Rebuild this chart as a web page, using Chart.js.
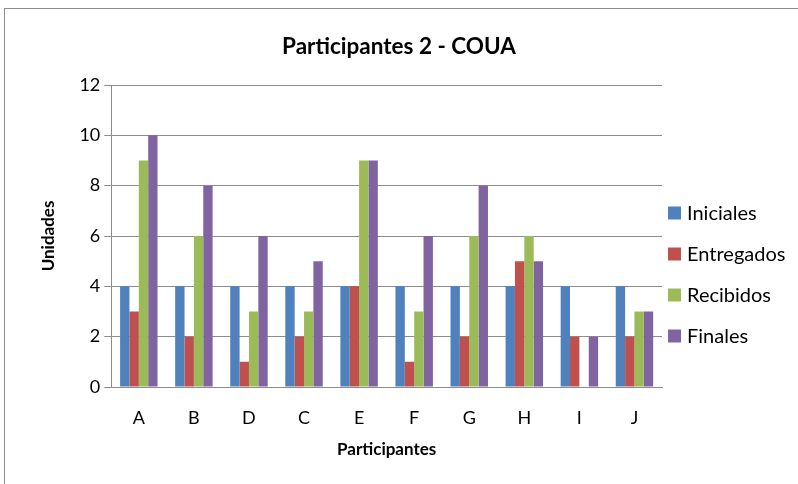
<!DOCTYPE html>
<html>
<head>
<meta charset="utf-8">
<script src="https://cdn.jsdelivr.net/npm/chart.js@4/dist/chart.umd.min.js"></script>
<style>
  html, body { margin: 0; padding: 0; background: #fff; }
  #wrap { width: 798px; height: 484px; position: relative; }
</style>
</head>
<body>
<div id="wrap"><canvas id="c" width="798" height="484"></canvas></div>
<script>
const categories = ['A', 'B', 'D', 'C', 'E', 'F', 'G', 'H', 'I', 'J'];
const iniciales  = [4, 4, 4, 4, 4, 4, 4, 4, 4, 4];
const entregados = [3, 2, 1, 2, 4, 1, 2, 5, 2, 2];
const recibidos  = [9, 6, 3, 3, 9, 3, 6, 6, 0, 3];
const finales    = [10, 8, 6, 5, 9, 6, 8, 5, 2, 3];
const yTicks = [0, 2, 4, 6, 8, 10, 12];

const font = 'Lato, "Open Sans", sans-serif';

// outer frame like the spreadsheet chart area
const frame = {
    id: 'frame',
    beforeDraw(chart) {
        const ctx = chart.ctx;
        ctx.save();
        ctx.fillStyle = '#fff';
        ctx.fillRect(0, 0, chart.width, chart.height);
        ctx.strokeStyle = '#8c8c8c';
        ctx.lineWidth = 1;
        ctx.strokeRect(4.5, 8.5, 900, 600);
        ctx.restore();
    }
};

// legend on the right, drawn from the datasets
const sideLegend = {
    id: 'sideLegend',
    afterDraw(chart) {
        const ctx = chart.ctx;
        const x = chart.chartArea.right + 6;
        let y = 213;
        ctx.save();
        ctx.font = '20px ' + font;
        ctx.textBaseline = 'middle';
        ctx.textAlign = 'left';
        chart.data.datasets.forEach(ds => {
            ctx.fillStyle = ds.backgroundColor;
            ctx.fillRect(x, y - 6.5, 13, 13);
            ctx.fillStyle = '#000';
            ctx.fillText(ds.label, x + 19, y + 1);
            y += 41;
        });
        ctx.restore();
    }
};

new Chart(document.getElementById('c'), {
    type: 'bar',
    data: {
        labels: categories,
        datasets: [
            { label: 'Iniciales', data: iniciales, backgroundColor: '#4F81BD' },
            { label: 'Entregados', data: entregados, backgroundColor: '#C0504D' },
            { label: 'Recibidos', data: recibidos, backgroundColor: '#9BBB59' },
            { label: 'Finales', data: finales, backgroundColor: '#8064A2' }
        ]
    },
    options: {
        responsive: false,
        animation: false,
        layout: { padding: { left: 0, right: 0, top: 0, bottom: 20 } },
        datasets: { bar: { categoryPercentage: 0.68, barPercentage: 1.0 } },
        plugins: {
            title: {
                display: true,
                text: 'Participantes 2 - COUA',
                color: '#000',
                font: { family: font, size: 22.5, weight: 'bold' },
                padding: { top: 33, bottom: 25 }
            },
            legend: { display: false },
            tooltip: { enabled: false }
        },
        scales: {
            x: {
                grid: { display: false, drawTicks: false },
                border: { color: '#8c8c8c' },
                ticks: { color: '#000', font: { family: font, size: 18 }, padding: 20 },
                title: {
                    display: true,
                    text: 'Participantes',
                    color: '#000',
                    font: { family: font, size: 17, weight: 'bold' },
                    padding: { top: -9, bottom: 4 }
                }
            },
            y: {
                min: 0,
                max: 12,
                afterBuildTicks(axis) { axis.ticks = yTicks.map(v => ({ value: v })); },
                grid: { color: '#8c8c8c', tickLength: 7 },
                border: { color: '#8c8c8c' },
                ticks: { color: '#000', font: { family: font, size: 18 }, padding: 4 },
                title: {
                    display: true,
                    text: 'Unidades',
                    color: '#000',
                    font: { family: font, size: 17, weight: 'bold' },
                    padding: { top: 38, bottom: 17 }
                }
            },
            // empty axis on the right that keeps room for the legend
            side: {
                position: 'right',
                display: true,
                grid: { display: false, drawTicks: false },
                border: { display: false },
                ticks: { display: false },
                afterFit(axis) { axis.width = 136; }
            }
        }
    },
    plugins: [frame, sideLegend]
});
</script>
</body>
</html>
